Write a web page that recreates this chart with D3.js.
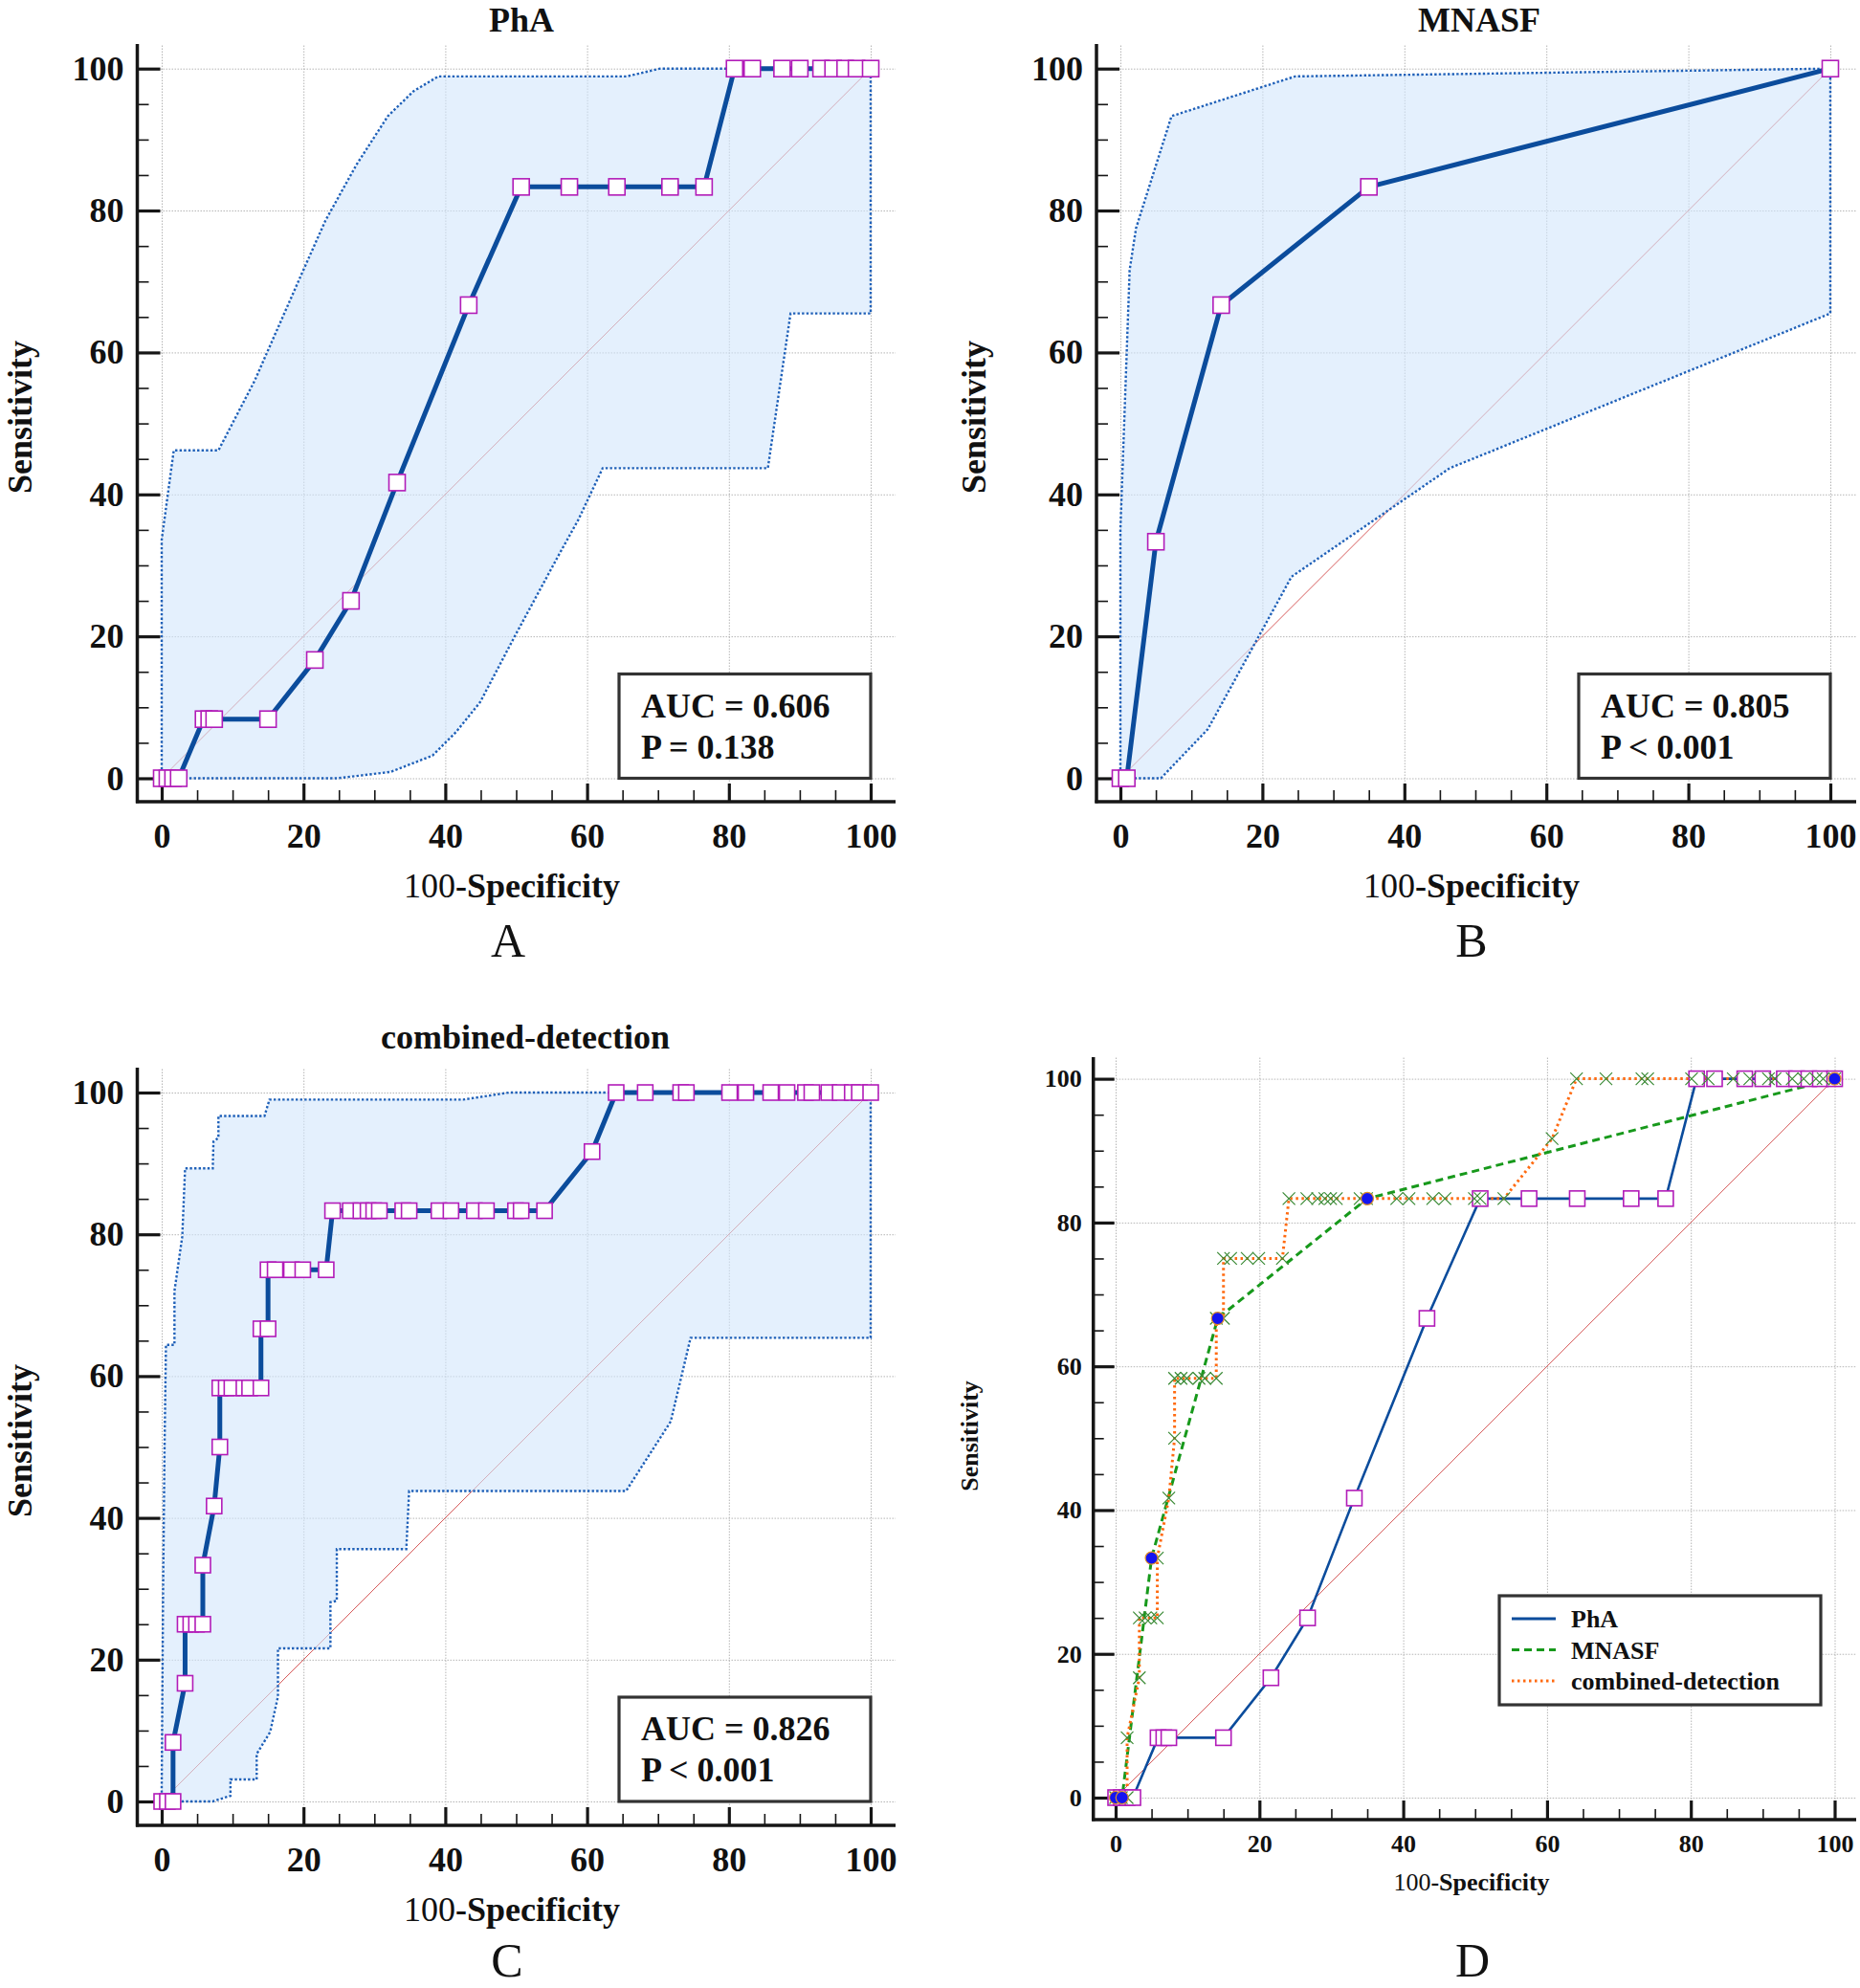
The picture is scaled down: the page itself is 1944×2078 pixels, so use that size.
<!DOCTYPE html>
<html><head><meta charset="utf-8">
<script src="https://cdn.jsdelivr.net/npm/d3@7"></script>
<style>
body{margin:0;background:#fff}
svg text{font-family:"Liberation Serif","Times New Roman",serif}
</style></head><body>
<svg id="chart" width="1944" height="2078" xmlns="http://www.w3.org/2000/svg"></svg>
<script>
// ---------------- DATA ----------------
const majorTicks = [0, 20, 40, 60, 80, 100];
const minorTicks = [5, 10, 15, 25, 30, 35, 45, 50, 55, 65, 70, 75, 85, 90, 95];
const diagonal = [[0, 0], [100, 100]];

// ROC points: [100-Specificity, Sensitivity]
const phaRoc = [[0,0],[0.8,0],[1.6,0],[2.4,0],[5.9,8.33],[6.7,8.33],[7.4,8.33],[15.0,8.33],
  [21.6,16.67],[26.7,25],[33.2,41.67],[43.3,66.67],[50.7,83.33],[57.5,83.33],[64.2,83.33],
  [71.7,83.33],[76.5,83.33],[80.8,100],[83.3,100],[87.5,100],[90.0,100],[93.0,100],[94.7,100],
  [96.4,100],[98.0,100],[100,100]];
const mnasfRoc = [[0,0],[0.9,0],[5.0,33.33],[14.2,66.67],[35.0,83.33],[100,100]];
const combinedRoc = [[0,0],[0.8,0],[1.6,0],[1.6,8.33],[3.3,16.67],[3.3,25],[4.1,25],[4.9,25],
  [5.8,25],[5.8,33.33],[7.4,41.67],[8.2,50],[8.2,58.33],[9.1,58.33],[9.9,58.33],[11.6,58.33],
  [12.4,58.33],[14.0,58.33],[14.0,66.67],[15.0,66.67],[15.0,75],[16.0,75],[18.3,75],[19.9,75],
  [23.2,75],[24.1,83.33],[26.6,83.33],[28.1,83.33],[29.1,83.33],[29.9,83.33],[30.7,83.33],
  [34.0,83.33],[34.9,83.33],[39.1,83.33],[40.8,83.33],[44.1,83.33],[45.8,83.33],[49.9,83.33],
  [50.7,83.33],[54.0,83.33],[60.7,91.67],[64.1,100],[68.2,100],[73.2,100],[74.0,100],[80.1,100],
  [82.4,100],[85.9,100],[88.2,100],[90.8,100],[91.7,100],[94.1,100],[95.7,100],[97.4,100],
  [98.4,100],[100,100]];

// 95% confidence bands (upper from (0,0) to (100,100), lower back from (100,100) to (0,0))
const phaUpper = [[0,0],[0,33.6],[1.7,46.2],[8.0,46.2],[13.1,56],[19.8,71.2],[23.1,78.6],
  [27.5,86.5],[31.9,93.3],[35.5,96.8],[39.0,98.9],[65.6,98.9],[70.3,100],[100,100]];
const phaLower = [[100,100],[100,65.5],[88.7,65.5],[85.5,43.7],[62.2,43.7],[58.8,36.5],
  [55.7,30.9],[49.9,20.2],[44.9,10.7],[41.5,6.5],[38.2,3.2],[32.3,0.9],[24.8,0],[0,0]];
const mnasfUpper = [[0,0],[0,35],[1.3,71.6],[2.2,77.5],[7.2,93.3],[24.6,98.9],[100,100]];
const mnasfLower = [[100,100],[100,65.5],[46.4,43.7],[24.1,28.4],[12.3,6.9],[5.7,0],[0,0]];
const combinedUpper = [[0,0],[0,2],[0.2,30],[0.4,50],[0.6,64.4],[1.8,64.4],[1.8,72],
  [2.9,79.7],[3.3,89.3],[7.2,89.3],[7.3,93.1],[8.0,93.6],[8.0,96.7],[14.5,96.7],[15.2,99.0],
  [42.5,99.0],[49.0,100],[100,100]];
const combinedLower = [[100,100],[100,65.4],[74.6,65.4],[71.8,53.6],[65.5,43.8],[34.9,43.8],
  [34.5,35.6],[24.7,35.6],[24.7,28.3],[23.8,28.1],[23.8,21.6],[16.4,21.6],[16.4,14.8],
  [15.3,9.8],[13.4,6.7],[13.4,3.1],[9.7,3.1],[9.7,0.8],[7.2,0],[0,0]];

const panelTitles = ["PhA", "MNASF", "combined-detection"];
const aucLines = [["AUC = 0.606", "P = 0.138"], ["AUC = 0.805", "P < 0.001"], ["AUC = 0.826", "P < 0.001"]];
const panelLetters = ["A", "B", "C", "D"];
const legendLabels = ["PhA", "MNASF", "combined-detection"];

// ---------------- STYLE ----------------
const C_ROC = "#0b4c9c", C_MARK = "#b21cb8", C_BANDFILL = "#d2e6fb", C_BANDLINE = "#1f60b8";
const C_DIAG = "#d65a5a", C_GRID = "#b5b5b5", C_AXIS = "#161616";
const C_GREEN = "#17991b", C_ORANGE = "#ff6a10", C_XMARK = "#3a8a35", C_CIRC = "#1414f0";

const svg = d3.select("#chart");
const FONT = '"Liberation Serif","Times New Roman",serif';
const lineGen = (x, y) => d3.line().x(d => x(d[0])).y(d => y(d[1]));

function frame(g, p, x, y) {
  g.append("g").attr("transform", `translate(0,${p.bottom})`)
    .call(d3.axisBottom(x).tickValues(majorTicks).tickSize(-(p.bottom - p.top)).tickFormat(""))
    .call(s => s.select(".domain").remove())
    .selectAll("line").attr("stroke", C_GRID).attr("stroke-width", 1).attr("stroke-dasharray", "1.5,1.5");
  g.append("g").attr("transform", `translate(${p.left},0)`)
    .call(d3.axisLeft(y).tickValues(majorTicks).tickSize(-(p.right - p.left)).tickFormat(""))
    .call(s => s.select(".domain").remove())
    .selectAll("line").attr("stroke", C_GRID).attr("stroke-width", 1).attr("stroke-dasharray", "1.5,1.5");
}

function axes(g, p, x, y) {
  const style = s => {
    s.select(".domain").remove();
    s.attr("font-family", FONT).attr("font-size", p.tickFont).attr("font-weight", "bold");
    s.selectAll("text").attr("fill", "#111");
    s.selectAll("line").attr("stroke", C_AXIS);
  };
  g.append("g").attr("transform", `translate(${p.left},0)`)
    .call(d3.axisLeft(y).tickValues(minorTicks).tickSize(-p.minLen).tickFormat(""))
    .call(style).selectAll("line").attr("stroke-width", 1.6);
  g.append("g").attr("transform", `translate(0,${p.bottom})`)
    .call(d3.axisBottom(x).tickValues(minorTicks).tickSize(-p.minLen).tickFormat(""))
    .call(style).selectAll("line").attr("stroke-width", 1.6);
  g.append("g").attr("transform", `translate(${p.left},0)`)
    .call(d3.axisLeft(y).tickValues(majorTicks).tickSize(-p.majLenY).tickPadding(p.padY).tickFormat(d3.format("d")))
    .call(style).selectAll("line").attr("stroke-width", 3.2);
  g.append("g").attr("transform", `translate(0,${p.bottom})`)
    .call(d3.axisBottom(x).tickValues(majorTicks).tickSize(-p.majLenX).tickPadding(p.padX).tickFormat(d3.format("d")))
    .call(style).selectAll("line").attr("stroke-width", 3.2);
  g.append("line").attr("x1", p.left).attr("x2", p.left).attr("y1", p.top).attr("y2", p.bottom + 1.5)
    .attr("stroke", C_AXIS).attr("stroke-width", 3.5);
  g.append("line").attr("x1", p.left - 1.5).attr("x2", p.right).attr("y1", p.bottom).attr("y2", p.bottom)
    .attr("stroke", C_AXIS).attr("stroke-width", 3.5);
}

function labels(g, p) {
  if (p.title) g.append("text").attr("x", p.titleX).attr("y", p.titleY).attr("text-anchor", "middle")
    .attr("font-size", 36).attr("font-weight", "bold").attr("fill", "#111").text(p.title);
  g.append("text").attr("transform", `translate(${p.sensX},${p.sensY}) rotate(-90)`)
    .attr("text-anchor", "middle").attr("font-size", p.labFont).attr("font-weight", "bold")
    .attr("fill", "#111").text("Sensitivity");
  const t = g.append("text").attr("x", p.specX).attr("y", p.specY).attr("text-anchor", "middle")
    .attr("font-size", p.labFont).attr("fill", "#111");
  t.append("tspan").attr("font-weight", "normal").text("100");
  t.append("tspan").attr("font-weight", "bold").text("-Specificity");
  g.append("text").attr("x", p.letterX).attr("y", p.letterY).attr("text-anchor", "middle")
    .attr("font-size", 50).attr("fill", "#111").text(p.letter);
}

function rocPanel(p) {
  const x = d3.scaleLinear().domain([0, 100]).range([p.x0, p.x100]);
  const y = d3.scaleLinear().domain([0, 100]).range([p.y0, p.y100]);
  const g = svg.append("g");
  frame(g, p, x, y);
  const L = lineGen(x, y);
  g.append("path").datum(diagonal).attr("d", L).attr("stroke", C_DIAG).attr("stroke-width", 1).attr("fill", "none");
  const band = p.upper.concat(p.lower);
  g.append("path").datum(band).attr("d", d => L(d) + "Z").attr("fill", C_BANDFILL).attr("fill-opacity", 0.6).attr("stroke", "none");
  g.append("path").datum(band).attr("d", d => L(d) + "Z").attr("fill", "none")
    .attr("stroke", C_BANDLINE).attr("stroke-width", 2.4).attr("stroke-dasharray", "2.4,2.2");
  axes(g, p, x, y);
  g.append("path").datum(p.roc).attr("d", L).attr("fill", "none").attr("stroke", C_ROC)
    .attr("stroke-width", 5).attr("stroke-linejoin", "round");
  const s = p.mark;
  g.selectAll("rect.m").data(p.roc).join("rect").attr("class", "m")
    .attr("x", d => x(d[0]) - s / 2).attr("y", d => y(d[1]) - s / 2).attr("width", s).attr("height", s)
    .attr("fill", "#fff").attr("stroke", C_MARK).attr("stroke-width", 1.6);
  const bx = x(100) - 263, by = y(0) - 109;
  g.append("rect").attr("x", bx).attr("y", by).attr("width", 263).attr("height", 109)
    .attr("fill", "#fff").attr("stroke", "#333").attr("stroke-width", 3.2);
  p.auc.forEach((txt, i) => g.append("text").attr("x", bx + 23).attr("y", by + 45 + i * 43)
    .attr("font-size", 36).attr("font-weight", "bold").attr("fill", "#111").text(txt));
  labels(g, p);
}

const common = { tickFont: 36, labFont: 36, majLenY: 24, majLenX: 19, minLen: 12, padY: 14, padX: 22, mark: 17 };
rocPanel(Object.assign({}, common, {
  x0: 169, x100: 910, y0: 813.5, y100: 71.7, left: 143.5, right: 936, top: 46, bottom: 838,
  roc: phaRoc, upper: phaUpper, lower: phaLower, title: panelTitles[0], titleX: 545, titleY: 33, auc: aucLines[0],
  sensX: 33, sensY: 436, specX: 535, specY: 938, letter: panelLetters[0], letterX: 531, letterY: 1000
}));
rocPanel(Object.assign({}, common, {
  x0: 1171, x100: 1913, y0: 813.5, y100: 71.7, left: 1146, right: 1940, top: 46, bottom: 838,
  roc: mnasfRoc, upper: mnasfUpper, lower: mnasfLower, title: panelTitles[1], titleX: 1546, titleY: 33, auc: aucLines[1],
  sensX: 1030, sensY: 436, specX: 1538, specY: 938, letter: panelLetters[1], letterX: 1538, letterY: 1000
}));
rocPanel(Object.assign({}, common, {
  x0: 169, x100: 910, y0: 1883, y100: 1142, left: 143.5, right: 936, top: 1116, bottom: 1908, mark: 16,
  roc: combinedRoc, upper: combinedUpper, lower: combinedLower, title: panelTitles[2], titleX: 549, titleY: 1096, auc: aucLines[2],
  sensX: 33, sensY: 1506, specX: 535, specY: 2008, letter: panelLetters[2], letterX: 530, letterY: 2066
}));

// ---------------- Panel D ----------------
(function () {
  const p = { x0: 1166, x100: 1917.5, y0: 1879, y100: 1127.6, left: 1142.7, right: 1940, top: 1105, bottom: 1902,
    tickFont: 26, labFont: 26, majLenY: 22, majLenX: 20, minLen: 11, padY: 12, padX: 16,
    sensX: 1022, sensY: 1501, specX: 1538, specY: 1976, letter: panelLetters[3], letterX: 1539, letterY: 2066 };
  const x = d3.scaleLinear().domain([0, 100]).range([p.x0, p.x100]);
  const y = d3.scaleLinear().domain([0, 100]).range([p.y0, p.y100]);
  const g = svg.append("g");
  frame(g, p, x, y);
  const L = lineGen(x, y);
  g.append("path").datum(diagonal).attr("d", L).attr("stroke", C_DIAG).attr("stroke-width", 1).attr("fill", "none");
  axes(g, p, x, y);
  g.append("path").datum(phaRoc).attr("d", L).attr("fill", "none").attr("stroke", C_ROC).attr("stroke-width", 2.6);
  g.append("path").datum(mnasfRoc).attr("d", L).attr("fill", "none").attr("stroke", C_GREEN)
    .attr("stroke-width", 3).attr("stroke-dasharray", "8,5");
  g.append("path").datum(combinedRoc).attr("d", L).attr("fill", "none").attr("stroke", C_ORANGE)
    .attr("stroke-width", 3).attr("stroke-dasharray", "2.5,3.5");
  const s = 16;
  g.selectAll("rect.m").data(phaRoc).join("rect").attr("class", "m")
    .attr("x", d => x(d[0]) - s / 2).attr("y", d => y(d[1]) - s / 2).attr("width", s).attr("height", s)
    .attr("fill", "#fff").attr("stroke", C_MARK).attr("stroke-width", 1.6);
  const h = 6.5;
  g.selectAll("path.x").data(combinedRoc).join("path").attr("class", "x")
    .attr("d", d => `M${x(d[0]) - h},${y(d[1]) - h}L${x(d[0]) + h},${y(d[1]) + h}M${x(d[0]) - h},${y(d[1]) + h}L${x(d[0]) + h},${y(d[1]) - h}`)
    .attr("stroke", C_XMARK).attr("stroke-width", 1.2).attr("fill", "none");
  g.selectAll("circle.c").data(mnasfRoc).join("circle").attr("class", "c")
    .attr("cx", d => x(d[0])).attr("cy", d => y(d[1])).attr("r", 6.5)
    .attr("fill", C_CIRC).attr("stroke", "#e0902a").attr("stroke-width", 1.2);
  labels(g, p);
  const lx = 1567, ly = 1668;
  g.append("rect").attr("x", lx).attr("y", ly).attr("width", 336).attr("height", 114)
    .attr("fill", "#fff").attr("stroke", "#333").attr("stroke-width", 3.2);
  const styles = [
    { c: C_ROC, d: null, w: 3 }, { c: C_GREEN, d: "8,5", w: 3.2 }, { c: C_ORANGE, d: "2.5,3.5", w: 3.2 }];
  legendLabels.forEach((lab, i) => {
    const ry = ly + 24 + i * 32.5;
    g.append("line").attr("x1", lx + 13).attr("x2", lx + 59).attr("y1", ry).attr("y2", ry)
      .attr("stroke", styles[i].c).attr("stroke-width", styles[i].w).attr("stroke-dasharray", styles[i].d);
    g.append("text").attr("x", lx + 75).attr("y", ry + 9).attr("font-size", 26).attr("font-weight", "bold")
      .attr("fill", "#111").text(lab);
  });
})();
</script>
</body></html>
